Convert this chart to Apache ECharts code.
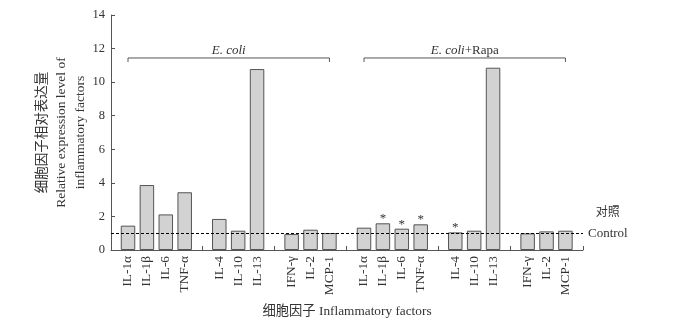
<!DOCTYPE html>
<html>
<head>
<meta charset="utf-8">
<script src="https://cdn.jsdelivr.net/npm/echarts@6/dist/echarts.min.js"></script>
<style>
  html, body { margin: 0; padding: 0; background: #fff; }
  #chart { width: 678px; height: 323px; }
</style>
</head>
<body>
<div id="chart"></div>
<script>
const factors = ['IL-1α', 'IL-1β', 'IL-6', 'TNF-α', 'IL-4', 'IL-10', 'IL-13', 'IFN-γ', 'IL-2', 'MCP-1'];
const subgroupSizes = [4, 3, 3];
const groupNames = ['E. coli', 'E. coli+Rapa'];
const groupLabels = ['{i|E. coli}', '{i|E. coli}+Rapa'];
const ecoliValues = [1.45, 3.87, 2.12, 3.44, 1.85, 1.15, 10.78, 0.95, 1.21, 1.01];
const rapaValues = [1.33, 1.59, 1.27, 1.53, 1.05, 1.15, 10.86, 0.99, 1.11, 1.15];
const rapaSignificant = [false, true, true, true, true, false, false, false, false, false];
const controlLevel = 1;
const bracketLevel = 11.44;

const serif = "'Liberation Serif', 'Times New Roman', 'Noto Sans CJK SC', serif";
const textColor = '#333';
const axisColor = '#555';

// bar positions along the x axis: step 1 within a subgroup, wider gap between subgroups
const padStart = 0.9;
const groupGap = 1.83;
const padEnd = 0.93;

const positions = [];
const names = [];
const gapTicks = [];
const groupSpans = [];
let x = padStart;
groupNames.forEach((g, gi) => {
  const start = x;
  let idx = 0;
  subgroupSizes.forEach((size, si) => {
    for (let k = 0; k < size; k += 1) {
      positions.push(x);
      names.push(factors[idx]);
      idx += 1;
      x += 1;
    }
    const last = x - 1;
    const isLast = gi === groupNames.length - 1 && si === subgroupSizes.length - 1;
    if (!isLast) {
      gapTicks.push(last + groupGap / 2);
      x = last + groupGap;
    }
  });
  groupSpans.push([start, positions[positions.length - 1], bracketLevel, gi]);
});
const xMax = positions[positions.length - 1] + padEnd;
gapTicks.push(xMax);

const allValues = ecoliValues.concat(rapaValues);
const allSig = ecoliValues.map(() => false).concat(rapaSignificant);

const barData = positions.map((p, i) => ({
  value: [p, allValues[i]],
  label: { show: allSig[i] },
}));

const chart = echarts.init(document.getElementById('chart'));

const option = {
  animation: false,
  grid: {
    left: 111,
    right: 95,
    top: 15,
    bottom: 73,
    outerBoundsMode: 'none',
  },
  xAxis: {
    type: 'value',
    min: 0,
    max: xMax,
    name: '细胞因子 Inflammatory factors',
    nameLocation: 'middle',
    nameGap: 55,
    nameMoveOverlap: false,
    nameTextStyle: {
      fontFamily: serif,
      fontSize: 13.3,
      color: textColor,
    },
    splitLine: { show: false },
    axisLine: {
      lineStyle: { color: axisColor, width: 1 },
    },
    axisTick: {
      inside: true,
      length: 4,
      customValues: gapTicks,
      lineStyle: { color: axisColor },
    },
    axisLabel: {
      customValues: positions,
      rotate: 90,
      margin: 6,
      fontFamily: serif,
      fontSize: 13.3,
      color: textColor,
      formatter: (v) => {
        const i = positions.findIndex((p) => Math.abs(p - v) < 1e-6);
        return i >= 0 ? names[i] : '';
      },
    },
  },
  yAxis: {
    type: 'value',
    min: 0,
    max: 14,
    interval: 2,
    name: '细胞因子相对表达量\nRelative expression level of\ninflammatory factors',
    nameLocation: 'middle',
    nameRotate: 90,
    nameGap: 21,
    nameMoveOverlap: false,
    nameTextStyle: {
      fontFamily: serif,
      fontSize: 13.5,
      lineHeight: 19,
      color: textColor,
    },
    splitLine: { show: false },
    axisLine: {
      show: true,
      lineStyle: { color: axisColor, width: 1 },
    },
    axisTick: {
      show: true,
      inside: true,
      length: 4,
      lineStyle: { color: axisColor },
    },
    axisLabel: {
      margin: 6,
      fontFamily: serif,
      fontSize: 12.5,
      color: textColor,
    },
  },
  series: [
    {
      name: 'expression',
      type: 'bar',
      barWidth: 14.5,
      data: barData,
      itemStyle: {
        color: '#d2d2d2',
        borderColor: '#555',
        borderWidth: 1,
      },
      label: {
        position: 'top',
        distance: -2,
        formatter: '*',
        fontFamily: serif,
        fontSize: 13,
        color: textColor,
      },
      markLine: {
        silent: true,
        symbol: 'none',
        lineStyle: {
          color: '#000',
          type: [3, 2],
          width: 1,
        },
        label: {
          position: 'end',
          distance: 5,
          formatter: '{cn|对照}\n{en|Control}',
          padding: [0, 0, 20, 0],
          rich: {
            cn: {
              fontFamily: serif,
              fontSize: 12,
              lineHeight: 20,
              color: textColor,
              align: 'center',
            },
            en: {
              fontFamily: serif,
              fontSize: 13,
              lineHeight: 20,
              color: textColor,
              align: 'center',
            },
          },
        },
        data: [{ yAxis: controlLevel }],
      },
    },
    {
      name: 'groups',
      type: 'custom',
      silent: true,
      clip: false,
      encode: { x: [0, 1], y: 2 },
      data: groupSpans,
      renderItem: (params, api) => {
        const p1 = api.coord([api.value(0), api.value(2)]);
        const p2 = api.coord([api.value(1), api.value(2)]);
        const gi = api.value(3);
        return {
          type: 'group',
          children: [
            {
              type: 'polyline',
              shape: {
                points: [
                  [p1[0], p1[1] + 4],
                  [p1[0], p1[1]],
                  [p2[0], p1[1]],
                  [p2[0], p1[1] + 4],
                ],
              },
              style: { stroke: axisColor, lineWidth: 1, fill: null },
            },
            {
              type: 'text',
              style: {
                text: groupLabels[gi],
                x: (p1[0] + p2[0]) / 2,
                y: p1[1] - 1,
                align: 'center',
                verticalAlign: 'bottom',
                fontFamily: serif,
                fontSize: 13,
                fill: textColor,
                rich: {
                  i: {
                    fontFamily: serif,
                    fontSize: 13,
                    fontStyle: 'italic',
                    fill: textColor,
                  },
                },
              },
            },
          ],
        };
      },
    },
  ],
};

chart.setOption(option);
window.addEventListener('resize', () => chart.resize());
</script>
</body>
</html>
